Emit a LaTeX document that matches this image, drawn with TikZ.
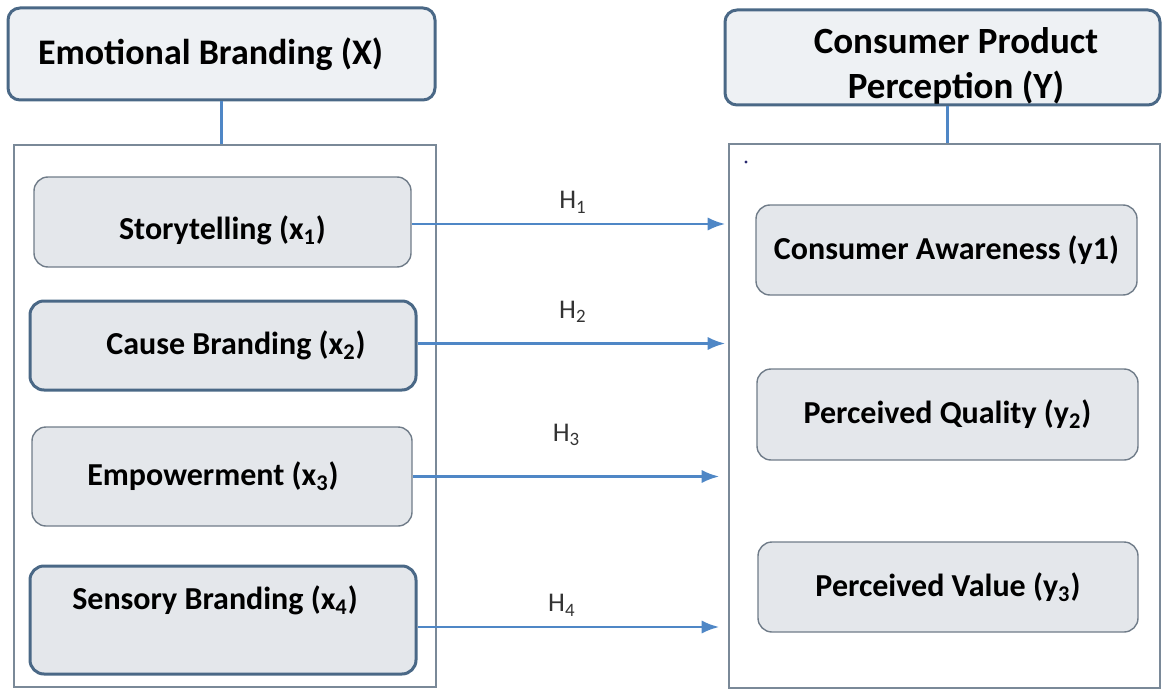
\documentclass[tikz,border=0pt]{standalone}
\usepackage{fontspec}
\setmainfont{Carlito}
\usetikzlibrary{arrows.meta,positioning}
\definecolor{boxFill}{RGB}{228,231,235}
\definecolor{headFill}{RGB}{238,241,244}
\definecolor{frameBlue}{RGB}{74,104,134}
\definecolor{frameGrey}{RGB}{112,124,137}
\definecolor{groupGrey}{RGB}{122,137,152}
\definecolor{arrowBlue}{RGB}{79,135,198}
\definecolor{dotBlue}{RGB}{40,40,110}

\begin{document}
\begin{tikzpicture}[x=0.5pt,y=-0.5pt,>=Latex,
  headbox/.style={draw=frameBlue,line width=1.5pt,rounded corners=6pt,fill=headFill,font=\bfseries\fontsize{18}{22.5}\selectfont,align=center,inner sep=0pt},
  headtext/.style={font=\bfseries\fontsize{18.5}{22.5}\selectfont,align=center,inner sep=0pt},
  groupbox/.style={draw=groupGrey,line width=0.7pt,inner sep=0pt},
  itembox/.style={draw=frameGrey,line width=0.7pt,rounded corners=7pt,fill=boxFill,font=\bfseries\fontsize{16}{18}\selectfont,inner sep=0pt},
  itemboxb/.style={itembox,draw=frameBlue,line width=1.5pt},
  hyp/.style={->,draw=arrowBlue,line width=1.3pt,shorten >=1.5pt},
  hlabel/.style={font=\fontsize{13.5}{16}\selectfont,text=black!80}]
\useasboundingbox (0,0) rectangle (1162,690);
% emotional branding side
\node[headbox,minimum width=213.5pt,minimum height=46pt] (xhead) at (221.5,54) {\hspace*{-11pt}Emotional Branding (X)};
\node[groupbox,minimum width=211pt,minimum height=271pt] (xgroup) at (225,416) {};
\node[itembox,minimum width=188.5pt,minimum height=45pt] (x1) at (222.5,222) {\raisebox{-4pt}[\height][\depth]{Storytelling (x\textsubscript{1})}};
\node[itemboxb,minimum width=193pt,minimum height=44.5pt] (x2) at (223,345.5) {\hspace*{13pt}Cause Branding (x\textsubscript{2})};
\node[itembox,minimum width=190pt,minimum height=49.5pt] (x3) at (222,476.5) {\hspace*{-9pt}Empowerment (x\textsubscript{3})};
\node[itemboxb,minimum width=193pt,minimum height=54pt] (x4) at (223,620) {\hspace*{-8pt}\raisebox{10pt}[\height][\depth]{Sensory Branding (x\textsubscript{4})}};
% consumer perception side
\node[headbox,minimum width=217.5pt,minimum height=47.5pt] (yhead) at (942.5,57.5) {};
\node[headtext] (yheadtext) at (956,66) {Consumer Product\\Perception (Y)};
\node[groupbox,minimum width=215.5pt,minimum height=272pt] (ygroup) at (944.5,416) {};
\node[circle,fill=dotBlue,inner sep=0.6pt] (dot) at (746,162) {};
\node[itembox,minimum width=190.5pt,minimum height=45pt] (y1) at (946.5,250) {Consumer Awareness (y1)};
\node[itembox,minimum width=190.5pt,minimum height=45.5pt] (y2) at (947.5,414.5) {Perceived Quality (y\textsubscript{2})};
\node[itembox,minimum width=190pt,minimum height=45pt] (y3) at (948,587) {Perceived Value (y\textsubscript{3})};
% links
\draw[draw=arrowBlue,line width=1.3pt] (xhead.south) -- (xhead.south |- xgroup.north);
\draw[draw=arrowBlue,line width=1.3pt] ([xshift=2.5pt]yhead.south) -- ([xshift=2.5pt]yhead.south |- ygroup.north);
\draw[hyp] ([yshift=-1pt]x1.east) -- ([yshift=-1pt]x1.east -| ygroup.west) node[hlabel,midway,above=1.5pt,xshift=1.5pt] (h1) {H\textsubscript{1}};
\draw[hyp] ([yshift=1pt]x2.east) -- ([yshift=1pt]x2.east -| ygroup.west) node[hlabel,midway,above=6.5pt] (h2) {H\textsubscript{2}};
\draw[hyp] (x3.east) -- ([xshift=-3pt]x3.east -| ygroup.west) node[hlabel,midway,above=11.5pt,xshift=-0.5pt] (h3) {H\textsubscript{3}};
\draw[hyp] ([yshift=-3.5pt]x4.east) -- ([xshift=-3pt,yshift=-3.5pt]x4.east -| ygroup.west) node[hlabel,midway,above=1.5pt,xshift=-4pt] (h4) {H\textsubscript{4}};
\end{tikzpicture}
\end{document}
